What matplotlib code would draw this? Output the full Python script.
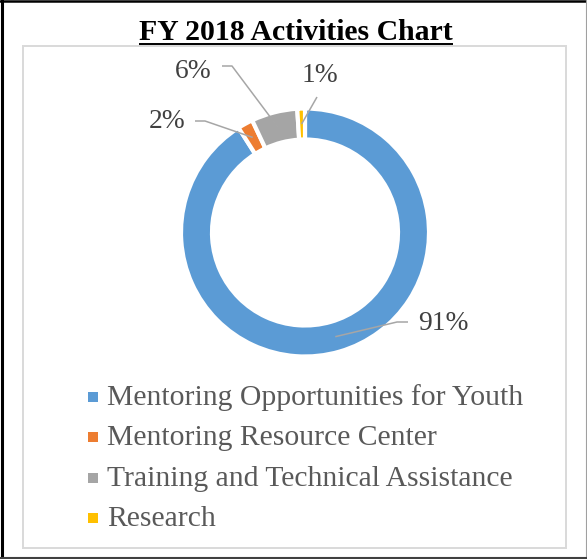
import matplotlib
matplotlib.use('Agg')
import matplotlib.pyplot as plt
from matplotlib.patches import Rectangle
import numpy as np

# chart data
categories = ['Mentoring Opportunities for Youth', 'Mentoring Resource Center',
              'Training and Technical Assistance', 'Research']
shares = [91, 2, 6, 1]
colors = ['#5B9BD5', '#ED7D31', '#A5A5A5', '#FFC000']
title = 'FY 2018 Activities Chart'

W, H = 587, 559
plt.rcParams['font.family'] = ['Liberation Serif', 'DejaVu Serif']


def Y(y):
    # picture rows run top-down, axes run bottom-up
    return H - y


fig = plt.figure(figsize=(W / 100, H / 100), dpi=100)
ax = fig.add_axes([0, 0, 1, 1])

# donut
cx, cy = 305, Y(232.5)
R, ring = 124, 31
wedges, _ = ax.pie(shares, colors=colors, startangle=90, counterclock=False,
                   radius=R, center=(cx, cy),
                   wedgeprops=dict(width=ring, edgecolor='white', linewidth=3))
ax.set_xlim(0, W)
ax.set_ylim(0, H)
ax.set_aspect('equal')
ax.axis('off')

# data labels with leader lines: (text x, text y, ha, leader points out from the ring)
label_layout = [
    (418, 323, 'left', [(397, 322), (408, 322)]),
    (186, 121, 'right', [(205, 121), (195, 121)]),
    (212, 71, 'right', [(232, 66), (222, 66)]),
    (320, 75, 'center', [(317, 97)]),
]
rmid = R - ring / 2
for w, v, (tx, ty, ha, pts) in zip(wedges, shares, label_layout):
    a = np.deg2rad((w.theta1 + w.theta2) / 2)
    xs = [cx + rmid * np.cos(a)] + [p[0] for p in pts]
    ys = [cy + rmid * np.sin(a)] + [Y(p[1]) for p in pts]
    ax.plot(xs, ys, color='#A6A6A6', lw=1.1, solid_capstyle='butt', zorder=3)
    ax.text(tx, Y(ty), f'{v}%', ha=ha, va='center', fontsize=19.8, color='#404040')

# legend
for i, (name, c) in enumerate(zip(categories, colors)):
    base = 405 + i * 40.4
    ax.add_patch(Rectangle((88, Y(base - 3)), 10, 10, color=c, lw=0))
    ax.text(107, Y(base), name, ha='left', va='baseline', fontsize=21.3, color='#595959')

# title, underlined
t = ax.text(296, Y(40), title, ha='center', va='baseline', fontsize=21.4,
            fontweight='bold', color='black')
fig.canvas.draw()
bb = t.get_window_extent(fig.canvas.get_renderer())
ax.plot([bb.x0, bb.x1], [Y(44), Y(44)], color='black', lw=1.4, solid_capstyle='butt')

# plot area box and outer frame
ax.add_patch(Rectangle((23, Y(548)), 566 - 23, 548 - 46, fill=False,
                       edgecolor='#D9D9D9', lw=1.4))
ax.plot([1.5, 1.5], [0, H], color='black', lw=2.2)
ax.plot([0, W], [Y(1), Y(1)], color='black', lw=1.8)
ax.plot([586, 586], [0, H], color='#A0A0A0', lw=0.8)
ax.plot([0, W], [Y(557.5), Y(557.5)], color='#404040', lw=1.5)

fig.savefig('out.png', dpi=100)
